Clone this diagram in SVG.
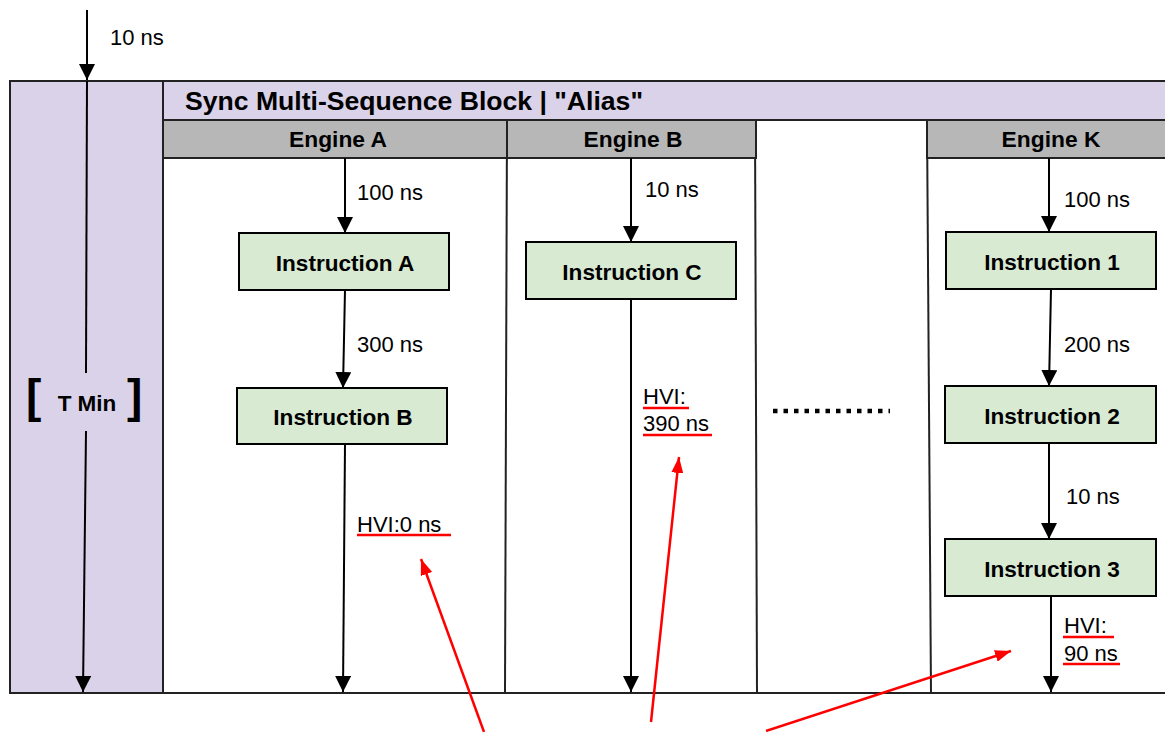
<svg xmlns="http://www.w3.org/2000/svg" width="1165" height="732" viewBox="0 0 1165 732">
<style>
text{font-family:"Liberation Sans",Arial,sans-serif;fill:#000}
.lbl{font-size:22px}
.b{font-weight:bold}
.instr rect{fill:#d9ead3;stroke:#000;stroke-width:2}
.instr text{font-size:22.6px;font-weight:bold;text-anchor:middle}
.eng rect{fill:#b7b7b7;stroke:#222;stroke-width:2}
.eng text{font-size:22.8px;font-weight:bold;text-anchor:middle}
.conn{stroke:#000;stroke-width:2;fill:none}
.col{stroke:#222;stroke-width:2;fill:none}
.red{stroke:#ff0000;stroke-width:2.5;fill:none}
</style>
<defs>
<marker id="ah" viewBox="0 0 16 16" refX="16" refY="8" markerWidth="16" markerHeight="16" markerUnits="userSpaceOnUse" orient="auto"><path d="M0,0 L16,8 L0,16 z" fill="#000"/></marker>
<marker id="rh" viewBox="0 0 16 12" refX="16" refY="6" markerWidth="16" markerHeight="12" markerUnits="userSpaceOnUse" orient="auto"><path d="M0,0 L16,6 L0,12 z" fill="#ff0000"/></marker>
</defs>
<rect width="1165" height="732" fill="#fff"/>
<g id="frame">
<rect x="10" y="81" width="1170" height="612" fill="#fff" stroke="#222" stroke-width="2"/>
</g>
<g id="tmin">
<rect x="10" y="81" width="153" height="612" fill="#d9d2e9" stroke="#222" stroke-width="2"/>
<text x="26" y="412" font-size="46" class="b">[</text>
<text x="87" y="411" font-size="22.5" class="b" text-anchor="middle">T Min</text>
<text x="127" y="412" font-size="46" class="b">]</text>
</g>
<g id="block-header">
<rect x="163" y="81" width="1010" height="39" fill="#d9d2e9" stroke="#222" stroke-width="2"/>
<text x="185" y="110" font-size="25" class="b" textLength="458" lengthAdjust="spacingAndGlyphs">Sync Multi-Sequence Block | "Alias"</text>
</g>
<g id="columns">
<path class="col" d="M507,120 L505,693"/>
<path class="col" d="M755,120 L757,693"/>
<path class="col" d="M927,120 L931,693"/>
</g>
<g id="engine-a" class="eng">
<rect x="163" y="120" width="344" height="38"/>
<text x="338" y="147">Engine A</text>
</g>
<g id="engine-b" class="eng">
<rect x="507" y="120" width="249" height="38"/>
<text x="633" y="147">Engine B</text>
</g>
<g id="engine-k" class="eng">
<rect x="927" y="120" width="250" height="38"/>
<text x="1051" y="147">Engine K</text>
</g>
<g id="instruction-a" class="instr">
<rect x="239" y="233" width="210" height="57"/>
<text x="345" y="271">Instruction A</text>
</g>
<g id="instruction-b" class="instr">
<rect x="237" y="388" width="210" height="56"/>
<text x="343" y="425">Instruction B</text>
</g>
<g id="instruction-c" class="instr">
<rect x="526" y="242" width="210" height="57"/>
<text x="632" y="280">Instruction C</text>
</g>
<g id="instruction-1" class="instr">
<rect x="946" y="232" width="210" height="57"/>
<text x="1052" y="270">Instruction 1</text>
</g>
<g id="instruction-2" class="instr">
<rect x="945" y="386" width="211" height="57"/>
<text x="1052" y="424">Instruction 2</text>
</g>
<g id="instruction-3" class="instr">
<rect x="945" y="539" width="211" height="57"/>
<text x="1052" y="577">Instruction 3</text>
</g>
<g id="connectors">
<path class="conn" d="M87,10 L87,80" marker-end="url(#ah)"/>
<path class="conn" d="M87,81 L86,373"/>
<path class="conn" d="M86,431 L83,692" marker-end="url(#ah)"/>
<path class="conn" d="M345,158 L345,233" marker-end="url(#ah)"/>
<path class="conn" d="M345,290 L343,388" marker-end="url(#ah)"/>
<path class="conn" d="M345,444 L343,692" marker-end="url(#ah)"/>
<path class="conn" d="M631,158 L631,242" marker-end="url(#ah)"/>
<path class="conn" d="M631,299 L631,692" marker-end="url(#ah)"/>
<path class="conn" d="M1049,158 L1049,232" marker-end="url(#ah)"/>
<path class="conn" d="M1051,289 L1049,386" marker-end="url(#ah)"/>
<path class="conn" d="M1049,443 L1049,539" marker-end="url(#ah)"/>
<path class="conn" d="M1051,596 L1051,692" marker-end="url(#ah)"/>
<path d="M773,411 L890,411" stroke="#000" stroke-width="4.5" stroke-dasharray="4.5 6" fill="none"/>
<path class="red" d="M484,732 L421,559" marker-end="url(#rh)"/>
<path class="red" d="M651,722 L679,457" marker-end="url(#rh)"/>
<path class="red" d="M766,731 L1011,651" marker-end="url(#rh)"/>
</g>
<g id="labels">
<text class="lbl" x="110" y="45">10 ns</text>
<text class="lbl" x="357" y="200">100 ns</text>
<text class="lbl" x="357" y="352">300 ns</text>
<text class="lbl" x="357" y="532">HVI:0 ns</text>
<path class="red" d="M357,535 L451,535"/>
<text class="lbl" x="645" y="197">10 ns</text>
<text class="lbl" x="643" y="404">HVI:</text>
<path class="red" d="M643,408 L689,408"/>
<text class="lbl" x="643" y="431">390 ns</text>
<path class="red" d="M643,435 L712,435"/>
<text class="lbl" x="1064" y="207">100 ns</text>
<text class="lbl" x="1064" y="352">200 ns</text>
<text class="lbl" x="1066" y="504">10 ns</text>
<text class="lbl" x="1064" y="633">HVI:</text>
<path class="red" d="M1063,637 L1114,637"/>
<text class="lbl" x="1064" y="661">90 ns</text>
<path class="red" d="M1063,664 L1120,664"/>
</g>
</svg>
